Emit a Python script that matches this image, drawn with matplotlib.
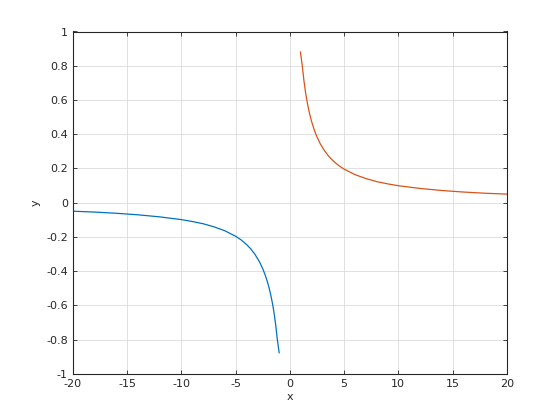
import numpy as np
import matplotlib
matplotlib.use('Agg')
import matplotlib.pyplot as plt

# values
x_neg = [-20, -18, -16, -14, -12, -10, -9, -8, -7, -6, -5, -4.5, -4, -3.6,
         -3.2, -2.8, -2.5, -2.25, -2.0, -1.8, -1.6, -1.45, -1.3, -1.15, -0.98]
y_neg = [-0.05, -0.055, -0.062, -0.071, -0.083, -0.099, -0.11, -0.123,
         -0.141, -0.164, -0.196, -0.217, -0.244, -0.27, -0.303, -0.345,
         -0.385, -0.426, -0.476, -0.526, -0.588, -0.645, -0.714, -0.8, -0.877]
x_pos = [0.98, 1.15, 1.3, 1.45, 1.6, 1.8, 2.0, 2.25, 2.5, 2.8, 3.2, 3.6, 4,
         4.5, 5, 6, 7, 8, 9, 10, 12, 14, 16, 18, 20]
y_pos = [0.88, 0.8, 0.714, 0.645, 0.588, 0.526, 0.476, 0.426, 0.385, 0.345,
         0.303, 0.27, 0.244, 0.217, 0.196, 0.164, 0.141, 0.123, 0.11, 0.099,
         0.083, 0.071, 0.062, 0.055, 0.05]

xticks = [-20, -15, -10, -5, 0, 5, 10, 15, 20]
yticks = [-1, -0.8, -0.6, -0.4, -0.2, 0, 0.2, 0.4, 0.6, 0.8, 1]

fg = plt.figure(figsize=(5.6, 4.2), dpi=100)
ax = fg.add_axes([0.13, 0.11, 0.775, 0.815])

ax.plot(x_neg, y_neg, color='#0072BD', lw=0.9)
ax.plot(x_pos, y_pos, color='#D95319', lw=0.9)

ax.set_xlim(-20, 20)
ax.set_ylim(-1, 1)
ax.set_xticks(xticks)
ax.set_yticks(yticks)
ax.set_xticklabels([str(t) for t in xticks])
ax.set_yticklabels(['%g' % t for t in yticks])
ax.grid(True, color='#dcdcdc', lw=0.6)
ax.set_axisbelow(True)
ax.tick_params(direction='in', length=3, width=0.6, colors='#262626',
               labelsize=8, top=True, right=True, labeltop=False, labelright=False)
ax.tick_params(axis='x', pad=4)
for s in ax.spines.values():
    s.set_color('#262626')
    s.set_linewidth(0.8)
ax.set_xlabel('x', fontsize=8, color='#262626', labelpad=2)
ax.set_ylabel('y', fontsize=8, color='#262626', labelpad=4)

fg.savefig('out.png')
